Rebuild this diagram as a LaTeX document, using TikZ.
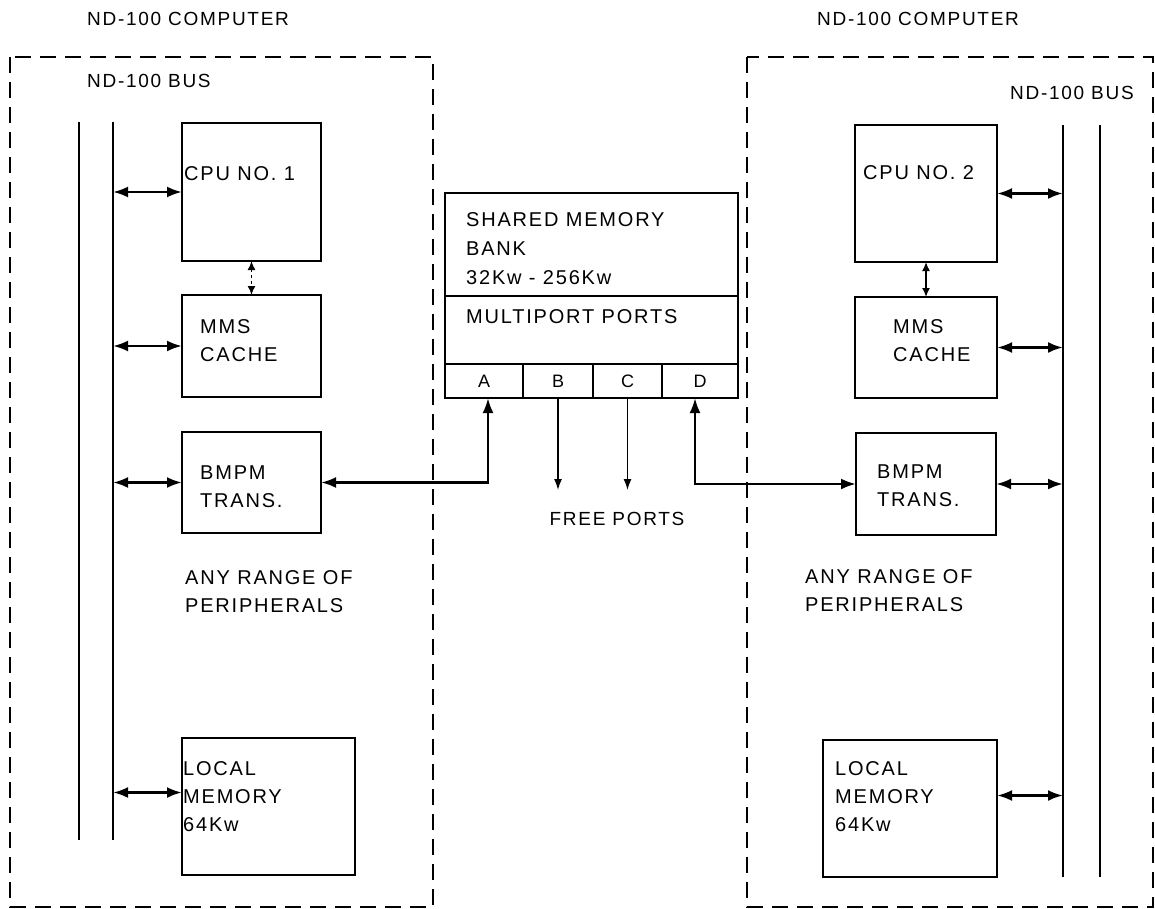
\documentclass[tikz,border=0pt]{standalone}
\usepackage{fontspec}
\setmainfont[LetterSpace=9]{Liberation Sans}
\usepackage{tikz}
\usetikzlibrary{positioning, arrows.meta}
\tikzset{myBox/.style={draw, line width=2.8pt, inner sep=0pt, outer sep=0pt}}
\tikzset{myFrame/.style={line width=2.2pt, dash pattern=on 16pt off 9pt}}
\tikzset{myBusLine/.style={line width=1.6pt}}
\tikzset{myLink/.style={line width=2.6pt, <->, >={Latex[length=15pt,width=11pt]}}}
\tikzset{myShortLink/.style={line width=1.6pt, <->, >={Latex[length=9pt,width=8pt]}}}
\tikzset{myFree/.style={line width=1.4pt, ->, >={Latex[length=11pt,width=8pt]}}}
\tikzset{myLabel/.style={font=\fontsize{20}{28}\selectfont, anchor=west, align=left, inner sep=0pt}}
\tikzset{myTitle/.style={myLabel, font=\fontsize{19}{24}\selectfont}}

\begin{document}
\begin{tikzpicture}[x=1pt, y=-1pt]
	\useasboundingbox (0,0) rectangle (1155,909);
	%\draw[help lines, step=50] (0,0) grid (1155,909);

	% the two computers
	\draw[myFrame] (10,57) rectangle (433,907);
	\draw[myFrame] (747,57) rectangle (1153,907);
	\node[myTitle] (titleA) at (87,19) {ND-100 COMPUTER};
	\node[myTitle] (titleB) at (817,19) {ND-100 COMPUTER};
	\node[myTitle] (busLblA) at (87,81) {ND-100 BUS};
	\node[myTitle] (busLblB) at (1010,93) {ND-100 BUS};

	% buses
	\coordinate (busA1t) at (79,122);  \coordinate (busA1b) at (79,840);
	\coordinate (busA2t) at (113,122); \coordinate (busA2b) at (113,840);
	\coordinate (busB1t) at (1063,125); \coordinate (busB1b) at (1063,877);
	\coordinate (busB2t) at (1100,125); \coordinate (busB2b) at (1100,877);
	\draw[myBusLine] (busA1t) -- (busA1b);
	\draw[myBusLine] (busA2t) -- (busA2b);
	\draw[myBusLine] (busB1t) -- (busB1b);
	\draw[myBusLine] (busB2t) -- (busB2b);

	% left computer
	\node[myBox, minimum width=139pt, minimum height=138pt] (cpuA) at (251.5,192) {};
	\node[myBox, minimum width=139pt, minimum height=102pt] (mmsA) at (251.5,346) {};
	\node[myBox, minimum width=139pt, minimum height=101pt] (bmA) at (251.5,482.5) {};
	\node[myBox, minimum width=173pt, minimum height=137pt] (locA) at (268.5,806.5) {};
	\node[myLabel] (cpuTxtA) at (184,174) {CPU NO. 1};
	\node[myLabel] (mmsTxtA) at (200,341) {MMS\\CACHE};
	\node[myLabel] (bmTxtA) at (200,487) {BMPM\\TRANS.};
	\node[myLabel] (perTxtA) at (185,592) {ANY RANGE OF\\PERIPHERALS};
	\node[myLabel] (locTxtA) at (183,797) {LOCAL\\MEMORY\\64Kw};
	\draw[myLink] (cpuA.west -| busA2t) -- (cpuA.west);
	\draw[myLink] (mmsA.west -| busA2t) -- (mmsA.west);
	\draw[myLink] (bmA.west -| busA2t) -- (bmA.west);
	\draw[myLink] ([yshift=14pt]locA.west -| busA2t) -- ([yshift=14pt]locA.west);
	\draw[myShortLink, dashed] (cpuA) -- (mmsA);

	% right computer
	\node[myBox, minimum width=142pt, minimum height=137pt] (cpuB) at (926,193.5) {};
	\node[myBox, minimum width=142pt, minimum height=101pt] (mmsB) at (926,347.5) {};
	\node[myBox, minimum width=140pt, minimum height=102pt] (bmB) at (926,484) {};
	\node[myBox, minimum width=174pt, minimum height=137pt] (locB) at (910,808.5) {};
	\node[myLabel] (cpuTxtB) at (863,173) {CPU NO. 2};
	\node[myLabel] (mmsTxtB) at (893,341) {MMS\\CACHE};
	\node[myLabel] (bmTxtB) at (877,486) {BMPM\\TRANS.};
	\node[myLabel] (perTxtB) at (805,591) {ANY RANGE OF\\PERIPHERALS};
	\node[myLabel] (locTxtB) at (835,797) {LOCAL\\MEMORY\\64Kw};
	\draw[myLink] (cpuB.east) -- (cpuB.east -| busB1t);
	\draw[myLink] (mmsB.east) -- (mmsB.east -| busB1t);
	\draw[myLink] (bmB.east) -- (bmB.east -| busB1t);
	\draw[myLink] ([yshift=13pt]locB.east) -- ([yshift=13pt]locB.east -| busB1t);
	\draw[myShortLink] (cpuB) -- (mmsB);

	% shared memory
	\node[myBox, minimum width=293pt, minimum height=103pt] (smBank) at (591.5,244.5) {};
	\node[myBox, minimum width=293pt, minimum height=68pt, below=0pt of smBank] (smPorts) {};
	\node[myBox, minimum width=78pt, minimum height=34pt, anchor=north west, font=\fontsize{18}{20}\selectfont] (portA) at (smPorts.south west) {A};
	\node[myBox, minimum width=70pt, minimum height=34pt, right=0pt of portA, font=\fontsize{18}{20}\selectfont] (portB) {B};
	\node[myBox, minimum width=69pt, minimum height=34pt, right=0pt of portB, font=\fontsize{18}{20}\selectfont] (portC) {C};
	\node[myBox, minimum width=76pt, minimum height=34pt, right=0pt of portC, font=\fontsize{18}{20}\selectfont] (portD) {D};
	\node[myLabel, font=\fontsize{20}{29}\selectfont] (smTxt) at (466,249) {SHARED MEMORY\\BANK\\32Kw - 256Kw};
	\node[myLabel] (portTxt) at (466,317) {MULTIPORT PORTS};
	\draw[myLink] (bmA.east) -| ([xshift=4pt]portA.south);
	\draw[myLink] ([xshift=-5pt]portD.south) |- (bmB.west);
	\coordinate (freeB) at ([yshift=-92pt]portB.south);
	\coordinate (freeC) at ([yshift=-92pt]portC.south);
	\draw[myFree] (portB.south) -- (freeB);
	\draw[myFree] (portC.south) -- (freeC);
	\node[myTitle, anchor=center] (freeTxt) at (617,519) {FREE PORTS};

\end{tikzpicture}
\end{document}
